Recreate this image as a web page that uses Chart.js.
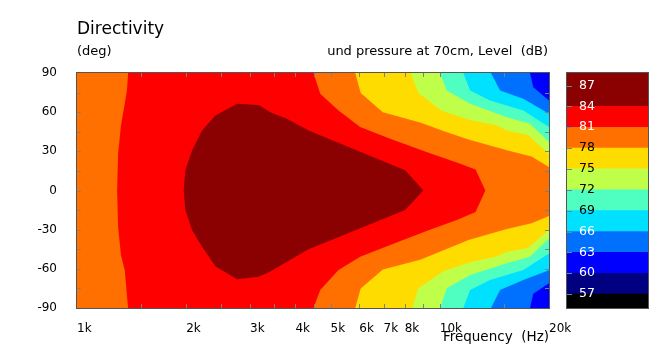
<!DOCTYPE html>
<html><head><meta charset="utf-8">
<script src="https://cdn.jsdelivr.net/npm/chart.js@4.4.0/dist/chart.umd.min.js"></script>
<style>
html,body{margin:0;padding:0;background:#fff;}
#wrap{position:relative;width:666px;height:351px;overflow:hidden;}
#main{position:absolute;left:0;top:0;}
#bar{position:absolute;left:560px;top:60px;}
</style></head><body>
<div id="wrap"><canvas id="main" width="666" height="351"></canvas><canvas id="bar" width="100" height="260"></canvas></div>
<script>
// ---------------- data ----------------
const chartTitle = 'Directivity';
const yAxisTitle = '(deg)';
const levelTitle = 'und pressure at 70cm, Level  (dB)';
const xAxisTitle = 'Frequency  (Hz)';

const xTickValues = [1000, 2000, 3000, 4000, 5000, 6000, 7000, 8000, 10000, 20000];
const xTickLabels = ['1k', '2k', '3k', '4k', '5k', '6k', '7k', '8k', '10k', '20k'];
const xMinorTicks = [1500, 2000, 2500, 3000, 3500, 4000, 4500, 5000, 6000, 7000, 8000, 9000, 10000, 15000];
const yTickValues = [-90, -60, -30, 0, 30, 60, 90];
const yMinorTicks = [-75, -60, -45, -30, -15, 0, 15, 30, 45, 60, 75];

// contour regions: outline of the area where level >= L, as [frequency Hz, angle deg]
const contourLevels = [84, 81, 78, 75, 72, 69, 66, 63, 60];
const region84 = [[1968,0],[1989,15.5],[2076,30.8],[2212,46],[2406,57.5],[2761,66.5],[3168,65.5],[3411,60],[3791,55],[4347,46],[8030,15.5],[9010,0],[8030,-15],[4347,-45],[3791,-54.5],[3411,-62],[3168,-66],[2761,-68],[2406,-58],[2212,-43],[2076,-30.4],[1989,-15]];
const region81 = [[1383,90],[4487,90],[4682,74.1],[5259,61.3],[6032,48.6],[7298,39.7],[9310,29],[11140,21.5],[12550,16],[13350,0],[12550,-16.5],[11140,-22.5],[9310,-30.5],[7298,-41.8],[6032,-50.8],[5259,-60.9],[4682,-76.2],[4487,-90],[1383,-90],[1354,-61],[1322,-49.5],[1298,-28],[1290,0],[1298,28.2],[1322,49.9],[1354,66.5],[1373,76.6]];
const region78 = [[1000,90],[5846,90],[6053,74.6],[6967,60],[8827,52],[10230,45.5],[12000,39],[15300,30.8],[17900,26],[20000,18],[20000,-19.5],[17900,-25],[15300,-29.5],[12000,-38],[9400,-50],[8827,-53],[6967,-60.5],[6053,-75],[5846,-90],[1000,-90]];
const region75 = [[1000,90],[8320,90],[8715,75],[9400,67.7],[10080,61.3],[12120,54],[14350,50],[15300,46],[17500,42.5],[20000,28],[20000,-30],[17500,-44],[15300,-47],[14350,-50.5],[12120,-55],[10200,-62],[9400,-69],[8715,-75],[8400,-90],[1000,-90]];
const region72 = [[1000,90],[10020,90],[10450,76.6],[12120,66.5],[15300,56.2],[17730,51.2],[20000,37.1],[20000,-36.7],[17730,-50.8],[15300,-55.8],[12120,-64.8],[10450,-74.9],[10020,-90],[1000,-90]];
const region69 = [[1000,90],[11610,90],[12120,76.6],[13750,69],[16990,61.3],[20000,48.6],[20000,-48.2],[16990,-60.9],[13750,-68.6],[12120,-76.2],[11610,-90],[1000,-90]];
const region66 = [[1000,90],[13840,90],[14660,76.6],[16990,70.3],[20000,58.8],[20000,-61],[16990,-68.6],[14660,-76.2],[13840,-90],[1000,-90]];
const region63 = [[1000,90],[17730,90],[18100,79],[20000,69],[20000,-71],[18100,-79],[17730,-90],[1000,-90]];
const region60 = [[1000,90],[20000,90],[20000,-90],[1000,-90]];
const regions = [region84, region81, region78, region75, region72, region69, region66, region63, region60];

// colour scale
const colorbarLevels = [57, 60, 63, 66, 69, 72, 75, 78, 81, 84, 87];
const colorbarBands = [[55,57],[57,60],[60,63],[63,66],[66,69],[69,72],[72,75],[75,78],[78,81],[81,84],[84,88.8]];
const colorbarRange = [55, 88.8];

// ---------------- styles ----------------
const FONT = '"DejaVu Sans", Verdana, sans-serif';
const palette = {87:'#8b0000',84:'#8b0000',81:'#ff0000',78:'#ff7000',75:'#ffdc00',72:'#bfff4a',69:'#4fffc2',66:'#00e0ff',63:'#0070ff',60:'#0000ff',57:'#000080',55:'#000000'};
Chart.defaults.font.family = FONT;
Chart.defaults.color = '#000';

const framePlugin = {
  id: 'frame',
  afterDraw(chart, args, opts) {
    const {ctx, chartArea: a} = chart;
    ctx.save();
    ctx.lineWidth = 1;
    if (opts.minor) {
      ctx.strokeStyle = '#808080';
      const xs = chart.scales.x, ys = chart.scales.y;
      ctx.beginPath();
      xMinorTicks.forEach(v => {
        const px = Math.round(xs.getPixelForValue(v)) + 0.5;
        ctx.moveTo(px, a.top); ctx.lineTo(px, a.top + 4);
        ctx.moveTo(px, a.bottom); ctx.lineTo(px, a.bottom - 4);
      });
      yMinorTicks.forEach(v => {
        const py = Math.round(ys.getPixelForValue(v)) + 0.5;
        ctx.moveTo(a.left, py); ctx.lineTo(a.left + 4, py);
        ctx.moveTo(a.right, py); ctx.lineTo(a.right - 4, py);
      });
      ctx.stroke();
    }
    if (opts.barTicks) {
      const ys = chart.scales.y;
      ctx.strokeStyle = '#5f8c9c';
      ctx.beginPath();
      colorbarLevels.forEach(v => {
        const py = Math.round(ys.getPixelForValue(v)) + 0.5;
        ctx.moveTo(a.left, py); ctx.lineTo(a.left + 5, py);
      });
      ctx.stroke();
    }
    ctx.strokeStyle = '#555555';
    ctx.strokeRect(a.left - 0.5, a.top - 0.5, a.right - a.left + 1, a.bottom - a.top + 1);
    if (opts.texts) {
      ctx.fillStyle = '#000';
      ctx.textBaseline = 'alphabetic';
      ctx.textAlign = 'left';
      ctx.font = '17px ' + FONT;
      ctx.fillText(chartTitle, a.left, 34);
      ctx.font = '13px ' + FONT;
      ctx.fillText(yAxisTitle, a.left, 55);
      ctx.textAlign = 'right';
      ctx.fillText(levelTitle, a.right - 1, 55);
    }
    ctx.restore();
  }
};

const datasets = contourLevels.map((lv, i) => ({
  label: '>= ' + lv,
  data: regions[i].map(([f, a]) => ({x: f, y: a})),
  fill: 'shape',
  backgroundColor: palette[lv],
  borderColor: palette[lv],
  borderWidth: 0,
  pointRadius: 0,
  tension: 0
}));

new Chart(document.getElementById('main'), {
  type: 'line',
  data: {datasets},
  options: {
    responsive: false, animation: false, events: [],
    layout: {padding: {left: 0, top: 73, right: 117, bottom: 0}},
    plugins: {legend: {display: false}, tooltip: {enabled: false}, frame: {minor: true, texts: true}},
    scales: {
      x: {
        type: 'logarithmic', min: 1000, max: 20000, position: 'bottom',
        afterBuildTicks: s => { s.ticks = xTickValues.map(v => ({value: v})); },
        afterFit: s => { s.height = 43; },
        grid: {display: false}, border: {display: false},
        ticks: {align: 'start', padding: 6, maxRotation: 0, autoSkip: false, color: '#000',
          font: {family: FONT, size: 12}, callback: (v, i) => xTickLabels[i]},
        title: {display: true, text: xAxisTitle, align: 'end', color: '#000',
          font: {family: FONT, size: 13.5}, padding: {top: 0, bottom: 5}}
      },
      y: {
        type: 'linear', min: -90, max: 90,
        afterBuildTicks: s => { s.ticks = yTickValues.map(v => ({value: v})); },
        afterFit: s => { s.width = 77; },
        grid: {display: false}, border: {display: false},
        ticks: {padding: 12, color: '#000', font: {family: FONT, size: 12}}
      }
    }
  },
  plugins: [framePlugin]
});

new Chart(document.getElementById('bar'), {
  type: 'bar',
  data: {
    labels: [''],
    datasets: colorbarBands.map(b => ({
      data: [b], backgroundColor: palette[b[0]], borderWidth: 0,
      grouped: false, barPercentage: 1, categoryPercentage: 1
    }))
  },
  options: {
    responsive: false, animation: false, events: [],
    layout: {padding: {left: 7, top: 13, right: 12, bottom: 12}},
    plugins: {legend: {display: false}, tooltip: {enabled: false}, frame: {barTicks: true}},
    scales: {
      x: {display: false},
      y: {
        min: colorbarRange[0], max: colorbarRange[1],
        afterBuildTicks: s => { s.ticks = colorbarLevels.map(v => ({value: v})); },
        afterFit: s => { s.width = 0; s.paddingTop = 0; s.paddingBottom = 0; },
        grid: {display: false}, border: {display: false},
        ticks: {mirror: true, padding: 12, z: 2, font: {family: FONT, size: 12.5},
          color: c => (c.tick && (c.tick.value >= 81 || c.tick.value <= 66)) ? '#ffffff' : '#000000'}
      }
    }
  },
  plugins: [framePlugin]
});
</script>
</body></html>
